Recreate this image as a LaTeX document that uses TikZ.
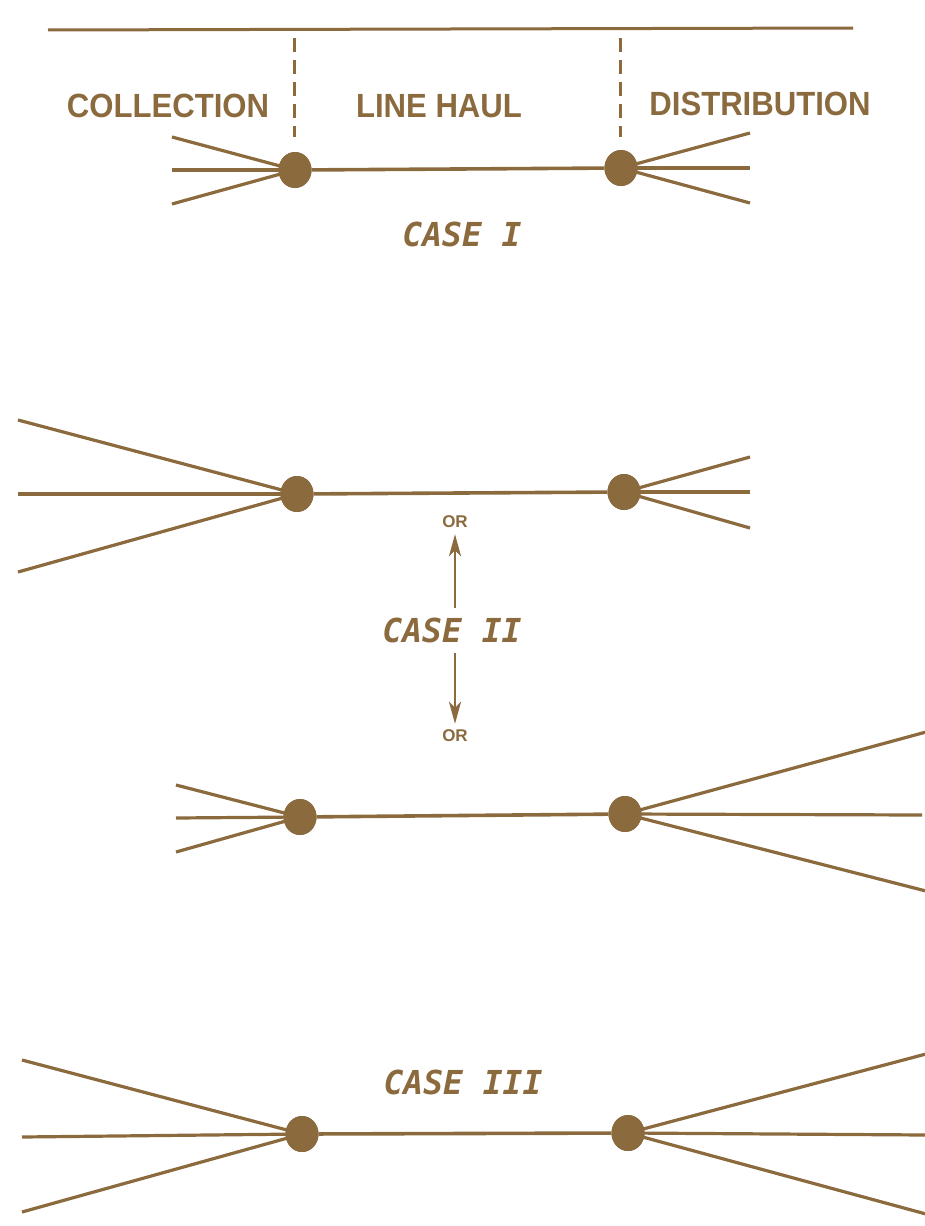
\documentclass[tikz,border=0pt]{standalone}
\usepackage{fontspec}
\setmainfont{Liberation Sans}
\newfontfamily\leroy{DejaVu Sans Mono}
\usetikzlibrary{shapes.geometric,arrows.meta}
\definecolor{ink}{RGB}{139,106,62}
\newcommand{\tallbox}[1]{\scalebox{1.02}[1.1]{#1}}
\tikzset{
  dot/.style={ellipse,fill=ink,draw=none,minimum width=33pt,minimum height=36pt,inner sep=0pt},
  fan/.style={draw=ink,line width=3.2pt},
  haul/.style={draw=ink,line width=3.6pt},
  divider/.style={draw=ink,line width=3pt,dash pattern=on 14pt off 8pt},
  lbl/.style={text=ink,font=\fontsize{30.5}{30}\selectfont\bfseries,inner sep=0pt,anchor=center},
  caselbl/.style={text=ink,font=\leroy\fontsize{33}{33}\selectfont\bfseries\itshape,inner sep=0pt},
  orlbl/.style={text=ink,font=\fontsize{17}{17}\selectfont\bfseries,inner sep=0pt},
  arr/.style={draw=ink,line width=2.6pt,-{Stealth[length=22pt,width=12pt,inset=6pt]}}
}
\begin{document}
\begin{tikzpicture}[x=1pt,y=-1pt]
\fill[white] (0,0) rectangle (924,1226);
\useasboundingbox (0,0) rectangle (924,1226);
% ---------- CASE I ----------
\coordinate (topL) at (48,30);
\coordinate (topR) at (853,28);
\draw[haul,line width=3pt] (topL) -- (topR);
\coordinate (d1a) at (294,38); \coordinate (d1b) at (294,137);
\coordinate (d2a) at (620,38); \coordinate (d2b) at (620,137);
\draw[divider] (d1a) -- (d1b);
\draw[divider] (d2a) -- (d2b);
\node[lbl] (coll) at (168,106) {\tallbox{COLLECTION}};
\node[lbl] (lh) at (439,106) {\tallbox{LINE HAUL}};
\node[lbl] (dist) at (760,104) {\tallbox{DISTRIBUTION}};
\node[dot] (A1) at (295,170) {};
\node[dot] (A2) at (621,168) {};
\coordinate (a1) at (172,137); \coordinate (a2) at (172,170); \coordinate (a3) at (172,204);
\coordinate (a4) at (750,133); \coordinate (a5) at (750,168); \coordinate (a6) at (750,203);
\draw[haul] (A1) -- (A2);
\foreach \c in {a1,a2,a3} \draw[fan] (\c) -- (A1.center);
\foreach \c in {a4,a5,a6} \draw[fan] (\c) -- (A2.center);
\node[dot] at (A1) {};
\node[dot] at (A2) {};
\node[caselbl] (c1) at (462,234) {CASE I};
% ---------- CASE II (upper) ----------
\node[dot] (B1) at (297,494) {};
\node[dot] (B2) at (624,492) {};
\coordinate (b1) at (18,420); \coordinate (b2) at (18,494); \coordinate (b3) at (18,572);
\coordinate (b4) at (750,457); \coordinate (b5) at (750,492); \coordinate (b6) at (750,528);
\draw[haul] (B1) -- (B2);
\foreach \c in {b1,b2,b3} \draw[fan] (\c) -- (B1.center);
\foreach \c in {b4,b5,b6} \draw[fan] (\c) -- (B2.center);
\node[dot] at (B1) {};
\node[dot] at (B2) {};
\node[orlbl] (or1) at (455,522) {OR};
\node[caselbl] (c2) at (452,630) {CASE II};
\node[orlbl] (or2) at (455,736) {OR};
\coordinate (u1) at (455,608);
\coordinate (u2) at (455,653);
\draw[arr] (u1) -- ([yshift=-6pt]or1.south);
\draw[arr] (u2) -- ([yshift=6pt]or2.north);
% ---------- CASE II (lower) ----------
\node[dot] (C1) at (300,817) {};
\node[dot] (C2) at (625,814) {};
\coordinate (e1) at (176,785); \coordinate (e2) at (176,818); \coordinate (e3) at (176,852);
\coordinate (e4) at (926,732); \coordinate (e5) at (922,815); \coordinate (e6) at (926,891);
\draw[haul] (C1) -- (C2);
\foreach \c in {e1,e2,e3} \draw[fan] (\c) -- (C1.center);
\foreach \c in {e4,e5,e6} \draw[fan] (\c) -- (C2.center);
\node[dot] at (C1) {};
\node[dot] at (C2) {};
% ---------- CASE III ----------
\node[caselbl] (c3) at (463,1082) {CASE III};
\node[dot] (D1) at (302,1134) {};
\node[dot] (D2) at (628,1133) {};
\coordinate (g1) at (22,1060); \coordinate (g2) at (22,1137); \coordinate (g3) at (22,1212);
\coordinate (g4) at (926,1054); \coordinate (g5) at (926,1135); \coordinate (g6) at (926,1214);
\draw[haul] (D1) -- (D2);
\foreach \c in {g1,g2,g3} \draw[fan] (\c) -- (D1.center);
\foreach \c in {g4,g5,g6} \draw[fan] (\c) -- (D2.center);
\node[dot] at (D1) {};
\node[dot] at (D2) {};
\end{tikzpicture}
\end{document}
